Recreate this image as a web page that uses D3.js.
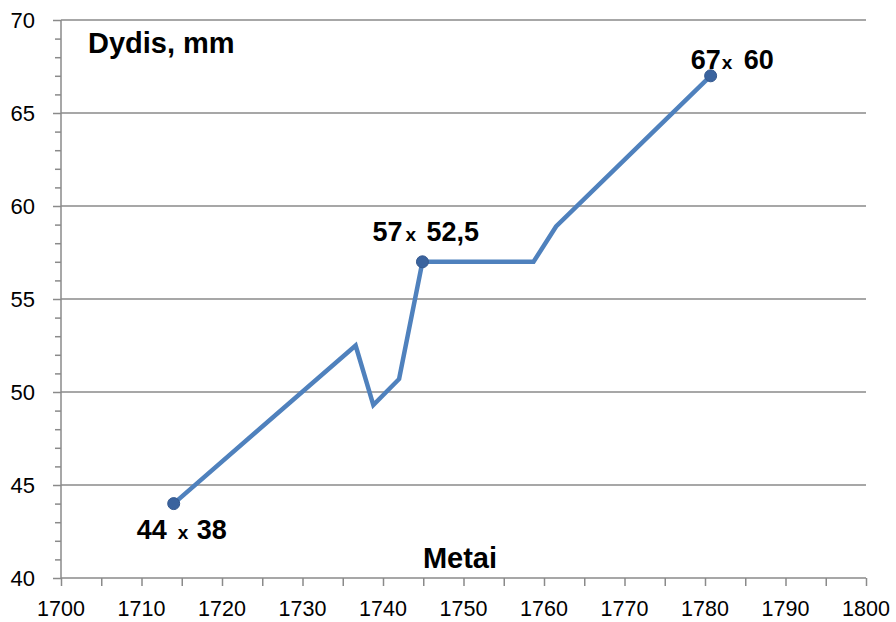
<!DOCTYPE html>
<html>
<head>
<meta charset="utf-8">
<script src="https://cdn.jsdelivr.net/npm/d3@7"></script>
<style>
  html, body { margin: 0; padding: 0; background: #fff; }
  svg { display: block; }
  text { font-family: "Liberation Sans", Arial, sans-serif; fill: #000; }
</style>
</head>
<body>
<svg id="chart" width="896" height="622"></svg>
<script>
// Coin size over the years
const years  = [1714, 1736.6, 1738.8, 1742, 1744.9, 1758.7, 1761.5, 1780.7];
const sizes  = [44,   52.5,   49.3,   50.7, 57,     57,     58.9,   67];
const markedPoints = [0, 4, 7];
const pointLabels = [
  ["44", "x", "38"],
  ["57", "x", "52,5"],
  ["67", "x", "60"]
];
const xTicks = [1700, 1710, 1720, 1730, 1740, 1750, 1760, 1770, 1780, 1790, 1800];
const yTicks = [40, 45, 50, 55, 60, 65, 70];
const yTitle = "Dydis, mm";
const xTitle = "Metai";

const svg = d3.select("#chart");
const plotLeft = 61, plotRight = 866, plotTop = 20, plotBottom = 578;
const x = d3.scaleLinear().domain([1700, 1800]).range([plotLeft, plotRight]);
const y = d3.scaleLinear().domain([40, 70]).range([plotBottom, plotTop]);
const axisGray = "#8a8a8a";

// horizontal gridlines
svg.append("g").selectAll("line").data(yTicks.filter(v => v > 40)).join("line")
  .attr("x1", plotLeft).attr("x2", plotRight)
  .attr("y1", d => y(d)).attr("y2", d => y(d))
  .attr("stroke", axisGray).attr("stroke-width", 1.5);

// y axis: major ticks every 5, minor every 1
const yAxis = svg.append("g").attr("transform", `translate(${plotLeft},0)`)
  .call(d3.axisLeft(y).tickValues(d3.range(40, 71, 1)).tickSize(6).tickFormat(""));
yAxis.selectAll(".tick line").filter(d => d % 5 === 0).attr("x2", -8);
yAxis.selectAll("path, line").attr("stroke", axisGray).attr("stroke-width", 1.5);
yAxis.select(".domain").attr("d", `M0,${plotTop}V${plotBottom}`);

svg.append("g").selectAll("text").data(yTicks).join("text")
  .attr("x", 35).attr("y", d => y(d) + 8)
  .attr("text-anchor", "end")
  .style("font-size", "22px")
  .text(d => d);

// x axis: ticks every 5 years
const xAxis = svg.append("g").attr("transform", `translate(0,${plotBottom})`)
  .call(d3.axisBottom(x).tickValues(d3.range(1700, 1801, 5)).tickSize(8).tickFormat(""));
xAxis.selectAll("path, line").attr("stroke", axisGray).attr("stroke-width", 1.5);
xAxis.select(".domain").attr("d", `M${plotLeft},0H${plotRight}`);

svg.append("g").selectAll("text").data(xTicks).join("text")
  .attr("x", d => x(d)).attr("y", 616)
  .attr("text-anchor", "middle")
  .style("font-size", "21.5px")
  .text(d => d);

// titles
svg.append("text").attr("x", 88).attr("y", 53)
  .style("font-size", "29px").style("font-weight", "bold").text(yTitle);
svg.append("text").attr("x", 460).attr("y", 568).attr("text-anchor", "middle")
  .style("font-size", "29px").style("font-weight", "bold").text(xTitle);

// the series line
const data = years.map((yr, i) => ({ yr, v: sizes[i] }));
svg.append("path").datum(data)
  .attr("fill", "none").attr("stroke", "#4f81bd").attr("stroke-width", 4.5)
  .attr("stroke-linejoin", "miter")
  .attr("d", d3.line().x(d => x(d.yr)).y(d => y(d.v)));

// markers on the labelled points
svg.append("g").selectAll("circle").data(markedPoints).join("circle")
  .attr("cx", i => x(years[i])).attr("cy", i => y(sizes[i])).attr("r", 6)
  .attr("fill", "#3a639e").attr("stroke", "#35598f").attr("stroke-width", 1);

// size labels: number, small "x", number
const labelOffsets = [
  { dy: 35,  dx: [-37, 4, 23] },
  { dy: -21, dx: [-50, -17, 4] },
  { dy: -7,  dx: [-20, 11, 33] }
];
markedPoints.forEach((pi, k) => {
  const px = x(years[pi]), py = y(sizes[pi]);
  const off = labelOffsets[k];
  const t = svg.append("text").attr("y", py + off.dy).style("font-weight", "bold");
  pointLabels[k].forEach((part, j) => {
    t.append("tspan").attr("x", px + off.dx[j])
      .style("font-size", j === 1 ? "19px" : "27px")
      .text(part);
  });
});
</script>
</body>
</html>
